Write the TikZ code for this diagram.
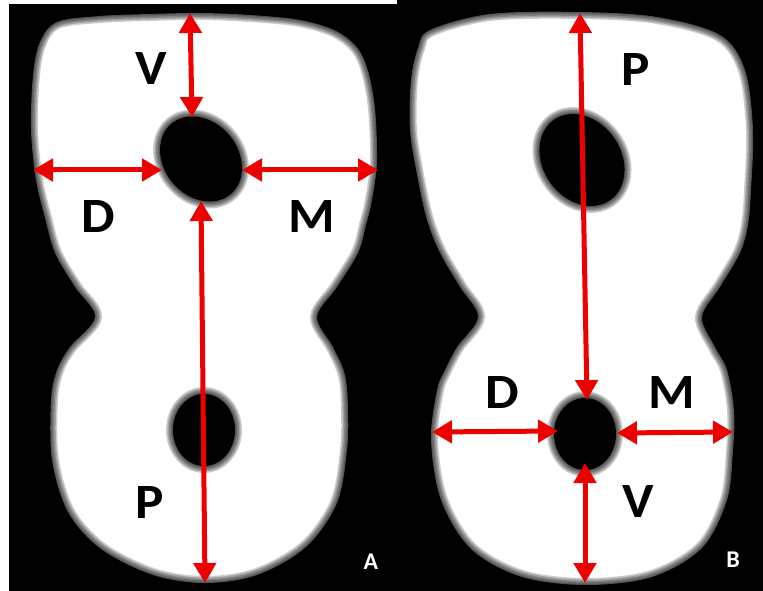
\documentclass[tikz,border=0pt]{standalone}
\usepackage{fontspec}
\setmainfont{Carlito}
\usetikzlibrary{arrows.meta}

\definecolor{gaugered}{RGB}{236,0,0}

\tikzset{
	soft edge/.style={draw=black, draw opacity=0.2, line width=#1},
	hazy/.style={postaction={soft edge=10.5pt}, postaction={soft edge=8.25pt}, postaction={soft edge=6pt},
		postaction={soft edge=3.75pt}, postaction={soft edge=1.5pt}},
	root/.style={fill=white, hazy},
	canal/.style={fill=black, hazy},
	gauge/.style={draw=gaugered, line width=3.75pt,
		{Triangle[length=15pt,width=16.5pt]}-{Triangle[length=15pt,width=16.5pt]}},
	side/.style={font=\fontsize{37}{37}\selectfont\bfseries, inner sep=0pt, xscale=1.08},
	panel/.style={text=white, font=\fontsize{18}{18}\selectfont\bfseries, inner sep=0pt}}

\begin{document}
\begin{tikzpicture}[x=0.75pt,y=0.75pt,yscale=-1,xscale=1]
	\useasboundingbox (0,0) rectangle (763,591);

	% backgrounds
	\fill[white] (0,0) rectangle (763,591);
	\fill[black] (9,4) rectangle (397,591);
	\fill[black] (397,0) rectangle (763,591);

	%Shape: root section, left panel
	\path[root] plot[smooth cycle, tension=0.55] coordinates {
		(57,22) (100,16) (150,14) (200,13) (250,15) (300,20) (338,32) (362,55)
		(374,100) (377,160) (372,200) (366,225) (358,253) (337,287) (317,317)
		(333,347) (345,375) (348,410) (347,450) (337,503) (306,547) (257,575)
		(205,583) (153,575) (101,549) (68,512) (52,460) (51,400) (57,370)
		(70,347) (95,317) (75,287) (55,253) (45,218) (36,180) (31,130) (33,75) (40,42)};
	%Shape: root section, right panel
	\path[root] plot[smooth cycle, tension=0.55] coordinates {
		(430,30) (490,14) (580,12) (657,17) (720,35) (745,70) (753,130) (751,190)
		(748,225) (740,253) (720,287) (702,317) (715,347) (727,370) (734,410)
		(733,450) (727,500) (702,548) (652,577) (587,585) (522,577) (471,549)
		(441,500) (431,440) (437,390) (445,370) (457,347) (478,317) (460,287)
		(440,253) (427,220) (418,180) (410,130) (411,80) (418,48)};

	%Shape: Ellipse, canals
	\path[canal, rotate around={50:(201,159)}] (201,159) ellipse (46 and 37);
	\path[canal] (204,430) ellipse (31 and 36);
	\path[canal, rotate around={55:(582,160)}] (582,160) ellipse (49 and 39);
	\path[canal] (585,434) ellipse (31 and 36);

	% arrow ends
	\coordinate (aV1) at (190,13);  \coordinate (aV2) at (192,117);
	\coordinate (aD1) at (33,170);  \coordinate (aD2) at (162,170);
	\coordinate (aM1) at (242,170); \coordinate (aM2) at (378,170);
	\coordinate (aP1) at (201,201); \coordinate (aP2) at (205,583);
	\coordinate (bP1) at (580,13);  \coordinate (bP2) at (587,400);
	\coordinate (bD1) at (432,432); \coordinate (bD2) at (558,431);
	\coordinate (bM1) at (617,433); \coordinate (bM2) at (733,432);
	\coordinate (bV1) at (585,463); \coordinate (bV2) at (585,583);

	%Arrows
	\draw[gauge] (aV1) -- (aV2);
	\draw[gauge] (aD1) -- (aD2);
	\draw[gauge] (aM1) -- (aM2);
	\draw[gauge] (aP1) -- (aP2);
	\draw[gauge] (bP1) -- (bP2);
	\draw[gauge] (bD1) -- (bD2);
	\draw[gauge] (bM1) -- (bM2);
	\draw[gauge] (bV1) -- (bV2);

	% Text Node
	\node[side] (aV) at (151,69) {V};
	\node[side] (aD) at (98,217) {D};
	\node[side] (aM) at (312,217) {M};
	\node[side] (aP) at (150,503) {P};
	\node[side] (bP) at (636,70) {P};
	\node[side] (bD) at (502,393) {D};
	\node[side] (bM) at (672,393) {M};
	\node[side] (bV) at (638,502) {V};
	% Text Node
	\node[panel] (pA) at (371,562) {A};
	\node[panel] (pB) at (733,560) {B};

\end{tikzpicture}
\end{document}
